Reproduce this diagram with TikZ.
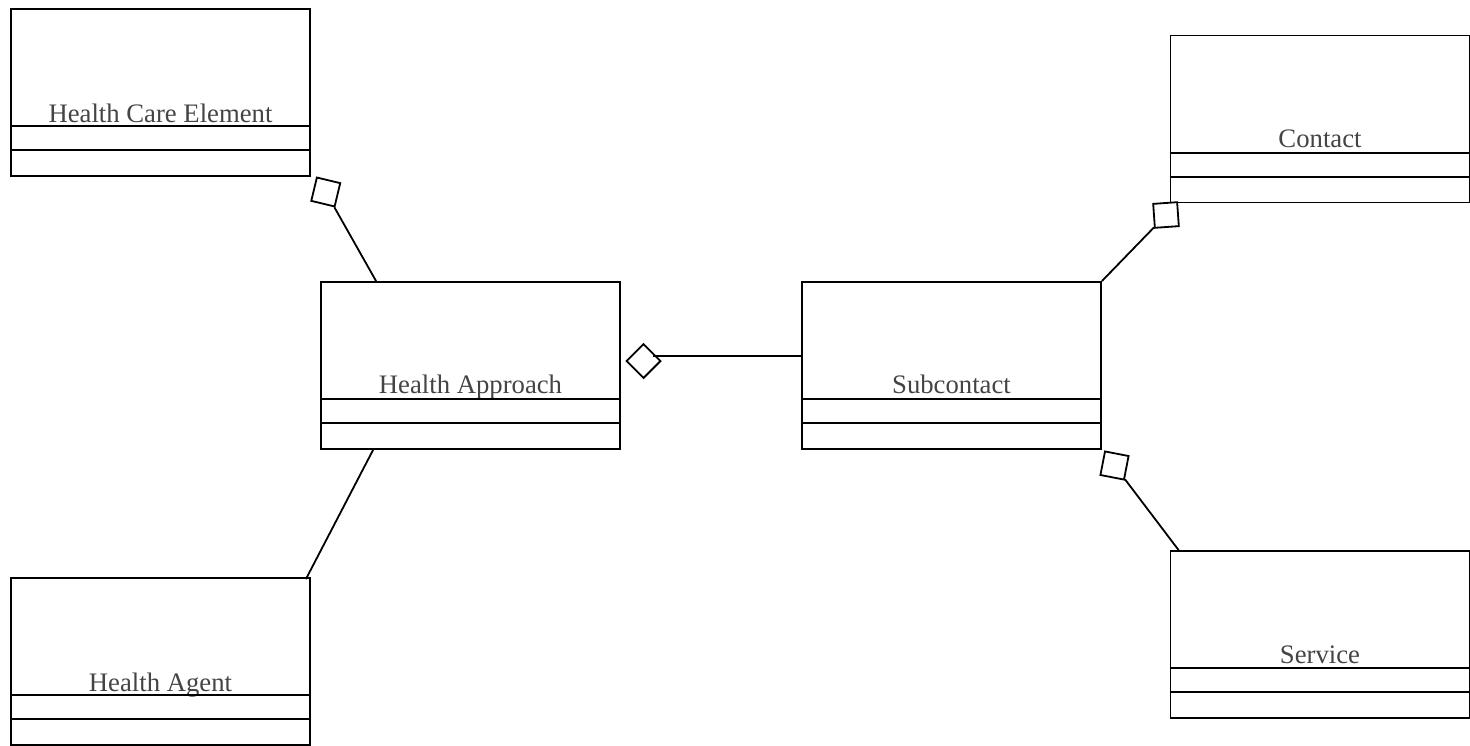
\documentclass[tikz,border=0pt]{standalone}
\usepackage{fontspec}
\setmainfont{Liberation Serif}
\usepackage{tikz}
\usetikzlibrary{positioning}
\definecolor{labelgray}{HTML}{444444}

\begin{document}
\begin{tikzpicture}[x=1pt, y=-1pt, line width=1.8pt,
  classbox/.style = {draw, shape = rectangle, minimum width = 299pt, minimum height = 167pt, inner sep = 0pt},
  classname/.style = {anchor = base, text = labelgray, font = \fontsize{26.7}{30}\selectfont},
  aggr/.style = {draw, fill = white, shape = rectangle, minimum size = 24pt, inner sep = 0pt}]
\useasboundingbox (0,0) rectangle (1470,745);

\node[classbox] (hce) at (160.5,92.5) {};
\node[classbox] (ha)  at (470.5,365.5) {};
\node[classbox] (sub) at (951.5,365.5) {};
\node[classbox] (hag) at (160.5,661.5) {};
\node[classbox] (con) at (1320,119) {};
\node[classbox] (ser) at (1320,634.5) {};

\node[classname] (hceT) at ([yshift=-114pt]hce.north) {Health Care Element};
\node[classname] (haT)  at ([yshift=-112pt]ha.north)  {Health Approach};
\node[classname] (subT) at ([yshift=-112pt]sub.north) {Subcontact};
\node[classname] (hagT) at ([yshift=-114pt]hag.north) {Health Agent};
\node[classname] (conT) at ([yshift=-113pt]con.north) {Contact};
\node[classname] (serT) at ([yshift=-113pt]ser.north) {Service};

% compartments
\foreach \b in {hce,ha,sub,hag,con,ser} {
  \draw ([yshift=-118pt]\b.north west) -- ([yshift=-118pt]\b.north east);
  \draw ([yshift=-142pt]\b.north west) -- ([yshift=-142pt]\b.north east);
}

% aggregation ends
\node[aggr, rotate = -13.5] (dHce) at (325.75,192) {};
\node[aggr, rotate = 45]    (dHa)  at (643.5,361) {};
\node[aggr, rotate = 4]     (dCon) at (1166,215) {};
\node[aggr, rotate = -11]   (dSer) at (1114.5,465.5) {};

\coordinate (haTop) at ([xshift=56pt]ha.north west);
\coordinate (haBot) at ([xshift=53pt]ha.south west);
\coordinate (hagTop) at ([xshift=-5pt,yshift=-2pt]hag.north east);
\coordinate (serTop) at ([xshift=9pt]ser.north west);
\coordinate (haTip) at ([xshift=9.5pt,yshift=5pt]dHa.center);

\draw (haTop) -- (dHce);
\draw ([yshift=9.5pt]sub.west) -- (haTip);
\draw (sub.north east) -- (dCon);
\draw (serTop) -- (dSer);
\draw (haBot) -- (hagTop);
\end{tikzpicture}
\end{document}
